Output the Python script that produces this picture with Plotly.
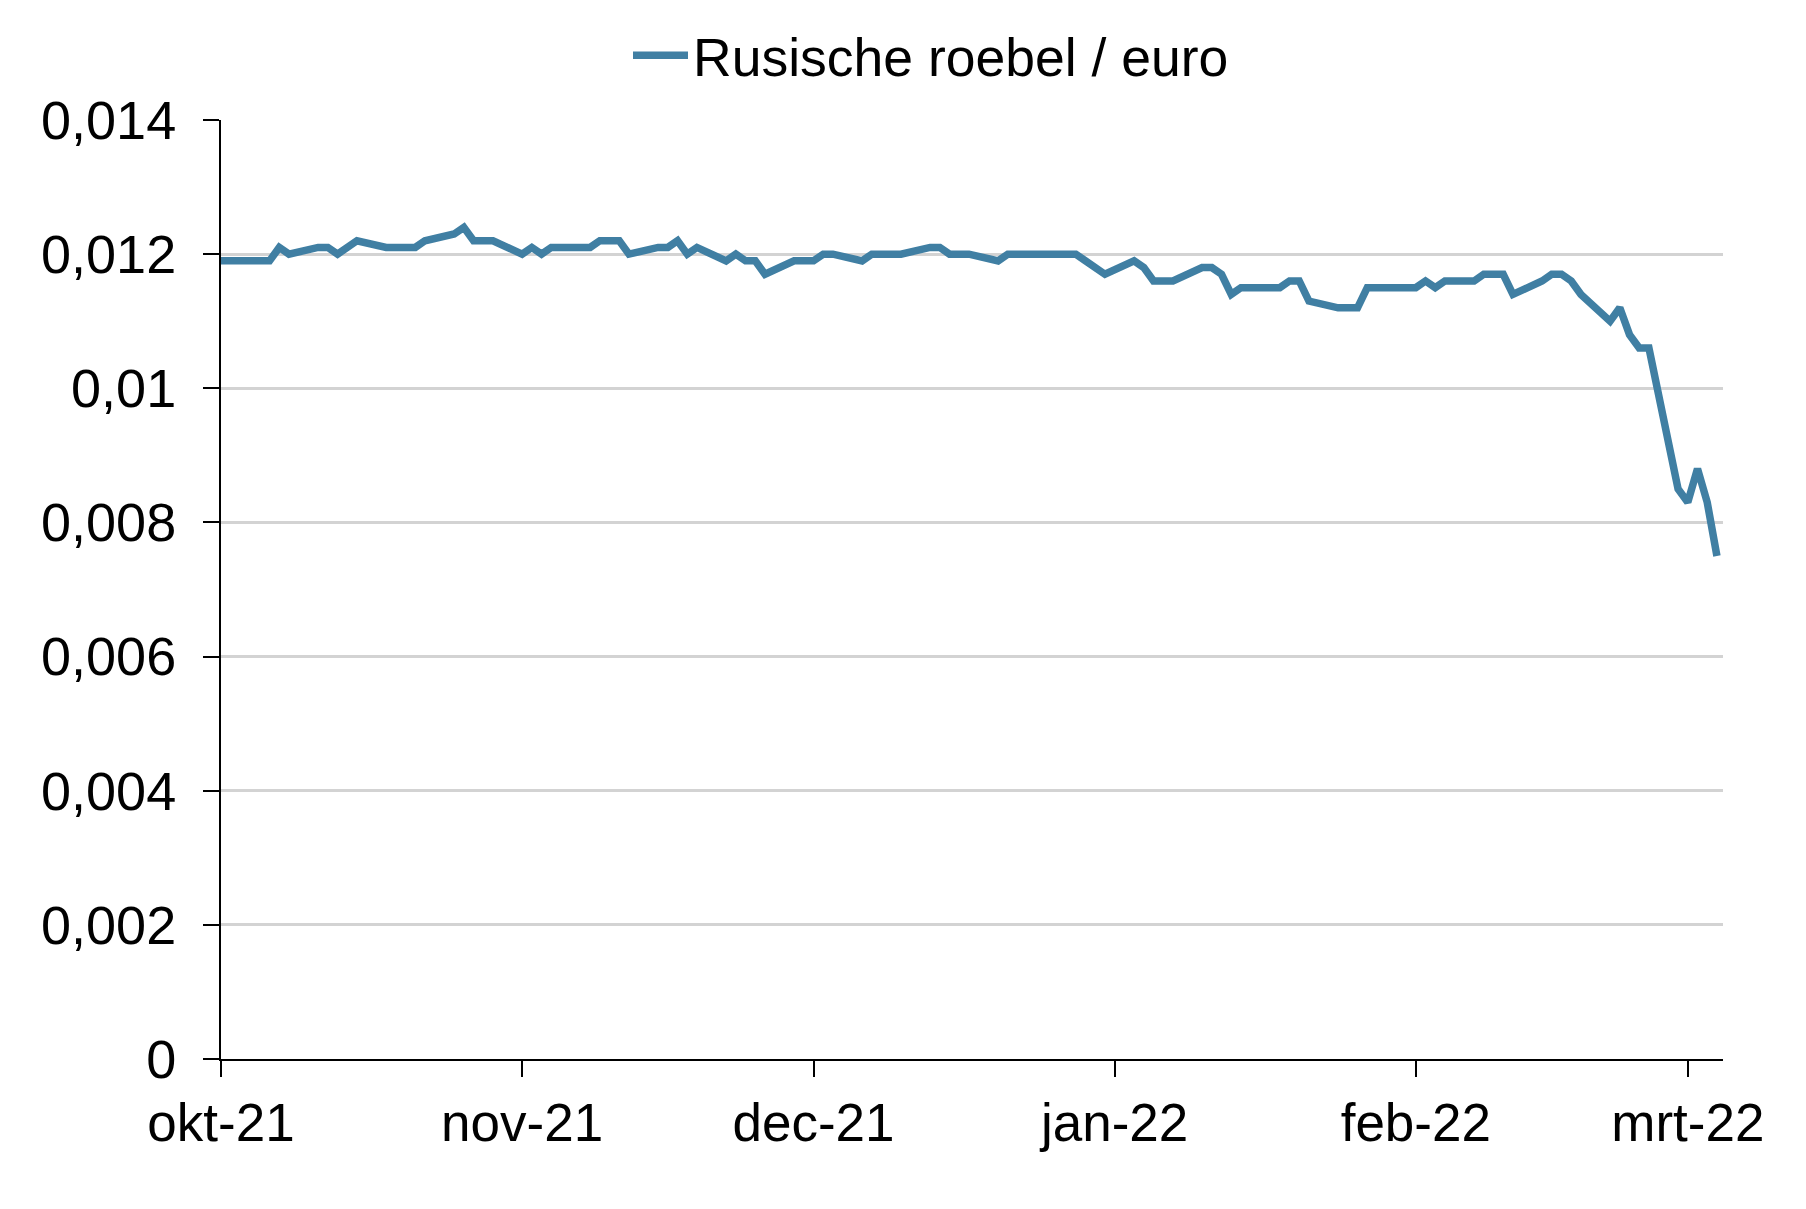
import plotly.graph_objects as go

# ---- data (business days) ----
dates_oct = ["2021-10-01", "2021-10-04", "2021-10-05", "2021-10-06", "2021-10-07", "2021-10-08",
             "2021-10-11", "2021-10-12", "2021-10-13", "2021-10-14", "2021-10-15",
             "2021-10-18", "2021-10-19", "2021-10-20", "2021-10-21", "2021-10-22",
             "2021-10-25", "2021-10-26", "2021-10-27", "2021-10-28", "2021-10-29"]
vals_oct = [0.0119, 0.0119, 0.0119, 0.0119, 0.0121, 0.0120,
            0.0121, 0.0121, 0.0120, 0.0121, 0.0122,
            0.0121, 0.0121, 0.0121, 0.0121, 0.0122,
            0.0123, 0.0124, 0.0122, 0.0122, 0.0122]

dates_nov = ["2021-11-01", "2021-11-02", "2021-11-03", "2021-11-04", "2021-11-05",
             "2021-11-08", "2021-11-09", "2021-11-10", "2021-11-11", "2021-11-12",
             "2021-11-15", "2021-11-16", "2021-11-17", "2021-11-18", "2021-11-19",
             "2021-11-22", "2021-11-23", "2021-11-24", "2021-11-25", "2021-11-26",
             "2021-11-29", "2021-11-30"]
vals_nov = [0.0120, 0.0121, 0.0120, 0.0121, 0.0121,
            0.0121, 0.0122, 0.0122, 0.0122, 0.0120,
            0.0121, 0.0121, 0.0122, 0.0120, 0.0121,
            0.0119, 0.0120, 0.0119, 0.0119, 0.0117,
            0.0119, 0.0119]

dates_dec = ["2021-12-01", "2021-12-02", "2021-12-03",
             "2021-12-06", "2021-12-07", "2021-12-08", "2021-12-09", "2021-12-10",
             "2021-12-13", "2021-12-14", "2021-12-15", "2021-12-16", "2021-12-17",
             "2021-12-20", "2021-12-21", "2021-12-22", "2021-12-23", "2021-12-24",
             "2021-12-27", "2021-12-28", "2021-12-29", "2021-12-30", "2021-12-31"]
vals_dec = [0.0119, 0.0120, 0.0120,
            0.0119, 0.0120, 0.0120, 0.0120, 0.0120,
            0.0121, 0.0121, 0.0120, 0.0120, 0.0120,
            0.0119, 0.0120, 0.0120, 0.0120, 0.0120,
            0.0120, 0.0120, 0.0119, 0.0118, 0.0117]

dates_jan = ["2022-01-03", "2022-01-04", "2022-01-05", "2022-01-06", "2022-01-07",
             "2022-01-10", "2022-01-11", "2022-01-12", "2022-01-13", "2022-01-14",
             "2022-01-17", "2022-01-18", "2022-01-19", "2022-01-20", "2022-01-21",
             "2022-01-24", "2022-01-25", "2022-01-26", "2022-01-27", "2022-01-28",
             "2022-01-31"]
vals_jan = [0.0119, 0.0118, 0.0116, 0.0116, 0.0116,
            0.0118, 0.0118, 0.0117, 0.0114, 0.0115,
            0.0115, 0.0115, 0.0116, 0.0116, 0.0113,
            0.0112, 0.0112, 0.0112, 0.0115, 0.0115,
            0.0115]

dates_feb = ["2022-02-01", "2022-02-02", "2022-02-03", "2022-02-04",
             "2022-02-07", "2022-02-08", "2022-02-09", "2022-02-10", "2022-02-11",
             "2022-02-14", "2022-02-15", "2022-02-16", "2022-02-17", "2022-02-18",
             "2022-02-21", "2022-02-22", "2022-02-23", "2022-02-24", "2022-02-25",
             "2022-02-28"]
vals_feb = [0.0115, 0.0116, 0.0115, 0.0116,
            0.0116, 0.0117, 0.0117, 0.0117, 0.0114,
            0.0116, 0.0117, 0.0117, 0.0116, 0.0114,
            0.0110, 0.0112, 0.0108, 0.0106, 0.0106,
            0.0085]

dates_mar = ["2022-03-01", "2022-03-02", "2022-03-03", "2022-03-04"]
vals_mar = [0.0083, 0.0088, 0.0083, 0.0075]

series_name = "Rusische roebel / euro"

x_tick_dates = ["2021-10-01", "2021-11-01", "2021-12-01", "2022-01-01", "2022-02-01", "2022-03-01"]
x_tick_labels = ["okt-21", "nov-21", "dec-21", "jan-22", "feb-22", "mrt-22"]

y_tick_vals = [0, 0.002, 0.004, 0.006, 0.008, 0.010, 0.012, 0.014]
y_tick_labels = ["0", "0,002", "0,004", "0,006", "0,008", "0,01", "0,012", "0,014"]

dates = dates_oct + dates_nov + dates_dec + dates_jan + dates_feb + dates_mar
values = vals_oct + vals_nov + vals_dec + vals_jan + vals_feb + vals_mar

FONT = "Liberation Sans, Arial, sans-serif"
LINE_COLOR = "#407FA3"

W, H = 1790, 1193

fig = go.Figure()
fig.add_trace(go.Scatter(
    x=dates, y=values, mode="lines", name=series_name,
    line=dict(color=LINE_COLOR, width=7.5),
))

fig.update_layout(
    width=W, height=H,
    margin=dict(l=213, r=75, t=112, b=142, autoexpand=False),
    paper_bgcolor="white", plot_bgcolor="white",
    font=dict(family=FONT, size=53, color="black"),
    showlegend=True,
    legend=dict(
        orientation="h",
        xref="container", yref="container",
        x=923 / W, xanchor="center",
        y=1 - 6 / H, yanchor="top",
        itemwidth=55,
        font=dict(family=FONT, size=53.5, color="black"),
        bgcolor="rgba(0,0,0,0)",
    ),
    xaxis=dict(
        type="date",
        range=["2021-10-01", "2022-03-04 15:00"],
        tickvals=x_tick_dates, ticktext=x_tick_labels,
        ticks="outside", ticklen=16, tickwidth=2, tickcolor="black",
        showline=True, linecolor="black", linewidth=2,
        showgrid=False, zeroline=False,
        tickfont=dict(family=FONT, size=53, color="black"),
    ),
    yaxis=dict(
        range=[0, 0.014],
        tickvals=y_tick_vals, ticktext=y_tick_labels,
        ticks="outside", ticklen=16, tickwidth=2, tickcolor="black",
        ticklabelstandoff=16,
        showline=True, linecolor="black", linewidth=2,
        showgrid=True, gridcolor="#D3D3D3", gridwidth=2.5,
        zeroline=False,
        tickfont=dict(family=FONT, size=54, color="black"),
    ),
)

fig.write_html("out.html")
